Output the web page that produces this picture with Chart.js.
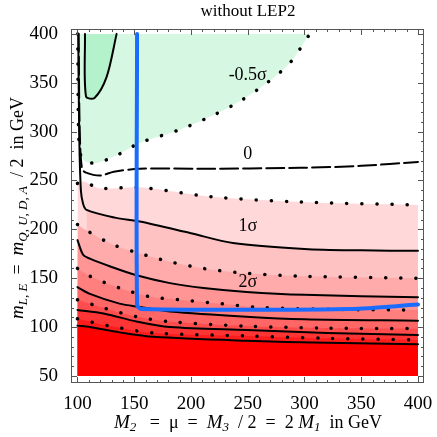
<!DOCTYPE html>
<html>
<head>
<meta charset="utf-8">
<script src="https://cdn.jsdelivr.net/npm/chart.js@4/dist/chart.umd.min.js"></script>
<style>
  html, body { margin: 0; padding: 0; background: #fff; }
  #wrap { width: 437px; height: 437px; }
</style>
</head>
<body>
<div id="wrap"><canvas id="c"></canvas></div>
<script>
// contour lines, as [M2, m] pairs
const greenDark = [[106.6,400],[107.5,336],[115,334.5],[125.7,356],[134.5,400]];
const minusHalf = [[100.2,400],[101,300],[103,275],[108,269],[117,268],[135,276],[155,288.5],[190,302],[220,317],[243,331],[267,350],[287,370],[303,397],[305,400]];
const zeroLine = [[101,400],[102,300],[104,262],[107.5,258],[120,255],[132,259],[155,262],[208,262],[296,263],[350,265],[400,269]];
const topDotted = [[100,247],[105,249],[120,242],[155,243],[217,233.5],[296,228],[400,225]];
const oneSigma = [[100.7,400],[101.5,300],[103,240],[105,226],[108,220],[133,212],[155,208],[200,196],[237,186],[300,180],[350,178.5],[400,178]];
const dot150 = [[100,205],[107,199.5],[130,185],[153,176],[181,167],[211,160],[249,155],[300,152],[400,150]];
const twoSigma = [[100,189],[105,174],[111,170],[129,162],[152,153],[181.5,145],[211,140],[249,136],[300,133],[400,130.5]];
const dot117 = [[100,160],[111,152],[137,140],[164,131],[190,128],[226,124],[262,120],[330,118],[400,117.5]];
const c3 = [[100,141],[111,134],[137,124],[155,120.6],[181.5,116],[249,110.6],[300,108],[400,106.6]];
const dot98 = [[100,128],[123,119.6],[152,110.7],[181,105.6],[249,101],[320,99],[400,98.4]];
const c2 = [[100,117.6],[123,114],[152,105.7],[181.5,100],[249,97],[320,94],[400,92]];
const dot87 = [[100,108.5],[129,101],[167,94],[249,91],[320,88.5],[400,86.8]];
const c1 = [[100,101.5],[111,100],[137,94.6],[167,90],[249,86],[320,84],[400,82.4]];
const blueLine = [[152.5,400],[152.5,123],[156,118.6],[340,118.6],[400,123]];

// band colours from top to bottom
const bandColors = ['#ffd9d9','#ffc2c2','#ffabab','#ff9595','#ff7f7f','#ff6666','#ff4d4d','#ff3535','#ff1c1c','#ff0000'];
const bandEdges = [topDotted, oneSigma.slice(4), dot150, twoSigma, dot117, c3, dot98, c2, dot87, c1];

const xTicks = [100,150,200,250,300,350,400];
const yTicks = [50,100,150,200,250,300,350,400];
const sigmaLabels = [['-0.5σ',250,358],['0',250,277],['1σ',250,203],['2σ',250,146]];

const pts = a => a.map(p => ({x: p[0], y: p[1]}));
const datasets = [];
function line(a, dash, color, width, order) {
  datasets.push({data: pts(a), borderColor: color || '#000', borderWidth: width || 2,
    borderDash: dash || [], borderCapStyle: 'round', pointRadius: 0, fill: false,
    tension: 0.3, order: order === undefined ? 0 : order});
}
[c1, c2, c3, twoSigma, oneSigma].forEach(a => line(a));
line(greenDark);
[dot87, dot98, dot117, dot150, topDotted, minusHalf].forEach(a => line(a, [0.1, 15], '#000', 3.5));
line(zeroLine, [18, 5]);
line(blueLine, [], '#1a6cff', 4, -1);

bandEdges.forEach((a, i) => {
  datasets.push({data: pts(a), borderWidth: 0, pointRadius: 0, tension: 0.3,
    backgroundColor: bandColors[i], fill: {value: 50}, order: 20 - i});
});
datasets.push({data: pts(minusHalf), borderWidth: 0, pointRadius: 0, tension: 0.3,
  backgroundColor: '#d6f8e2', fill: {value: 400}, order: 30});
datasets.push({data: pts(greenDark), borderWidth: 0, pointRadius: 0, tension: 0.3,
  backgroundColor: '#b4f2cc', fill: {value: 400}, order: 29});

const serif = '"Liberation Serif", "DejaVu Serif", serif';

function drawParts(ctx, parts, x, y) {
  let cx = x;
  parts.forEach(p => {
    ctx.font = (p.it ? 'italic ' : '') + (p.sz || 18) + 'px ' + serif;
    ctx.fillText(p.t, cx, y + (p.dy || 0));
    cx += ctx.measureText(p.t).width;
  });
  return cx - x;
}
function partsWidth(ctx, parts) {
  let w = 0;
  parts.forEach(p => {
    ctx.font = (p.it ? 'italic ' : '') + (p.sz || 18) + 'px ' + serif;
    w += ctx.measureText(p.t).width;
  });
  return w;
}

const decor = {
  id: 'decor',
  afterDraw(chart) {
    const ctx = chart.ctx, a = chart.chartArea;
    const xs = chart.scales.x, ys = chart.scales.y;
    ctx.save();
    ctx.strokeStyle = '#555';
    ctx.lineWidth = 1;
    ctx.strokeRect(a.left + 0.5, a.top + 0.5, a.right - a.left - 1, a.bottom - a.top - 1);
    for (let v = 100; v <= 400; v += 10) {
      const px = Math.round(xs.getPixelForValue(v)) + 0.5, len = v % 50 ? 3 : 6;
      ctx.beginPath();
      ctx.moveTo(px, a.bottom); ctx.lineTo(px, a.bottom - len);
      ctx.moveTo(px, a.top); ctx.lineTo(px, a.top + len);
      ctx.stroke();
    }
    for (let v = 50; v <= 400; v += 10) {
      const py = Math.round(ys.getPixelForValue(v)) + 0.5, len = v % 50 ? 3 : 6;
      ctx.beginPath();
      ctx.moveTo(a.left, py); ctx.lineTo(a.left + len, py);
      ctx.moveTo(a.right, py); ctx.lineTo(a.right - len, py);
      ctx.stroke();
    }
    ctx.fillStyle = '#000';
    ctx.textAlign = 'center';
    ctx.textBaseline = 'middle';
    ctx.font = '18px ' + serif;
    sigmaLabels.forEach(l => ctx.fillText(l[0], xs.getPixelForValue(l[1]), ys.getPixelForValue(l[2])));
    ctx.font = '17px ' + serif;
    ctx.fillText('without LEP2', 248, 12);

    ctx.textAlign = 'left';
    ctx.textBaseline = 'alphabetic';
    const xt = [{t:'M',it:1,sz:19},{t:'2',it:1,sz:13,dy:3},{t:'   =  μ  =  '},{t:'M',it:1,sz:19},{t:'3',it:1,sz:13,dy:3},
      {t:'  / 2  =  2 '},{t:'M',it:1,sz:19},{t:'1',it:1,sz:13,dy:3},{t:'  in GeV'}];
    drawParts(ctx, xt, 248 - partsWidth(ctx, xt) / 2, 428);

    const yt = [{t:'m',it:1,sz:19},{t:'L, E',it:1,sz:13,dy:4},{t:'  =  '},{t:'m',it:1,sz:19},{t:'Q, U, D, A',it:1,sz:13,dy:4},
      {t:'  / 2  in GeV'}];
    ctx.translate(18, 208);
    ctx.rotate(-Math.PI / 2);
    drawParts(ctx, yt, -partsWidth(ctx, yt) / 2, 5);
    ctx.restore();
  }
};

new Chart(document.getElementById('c'), {
  type: 'line',
  data: {datasets: datasets},
  plugins: [decor],
  options: {
    responsive: true,
    maintainAspectRatio: false,
    animation: false,
    layout: {padding: {top: 29, right: 13, left: 0, bottom: 0}},
    plugins: {legend: {display: false}, tooltip: {enabled: false}, filler: {propagate: false}},
    scales: {
      x: {
        type: 'linear', min: 94.3, max: 405.3,
        grid: {display: false}, border: {display: false},
        afterBuildTicks: s => { s.ticks = xTicks.map(v => ({value: v})); },
        afterFit: s => { s.height = 54; },
        ticks: {color: '#000', font: {family: serif, size: 19}, padding: 2, maxRotation: 0}
      },
      y: {
        type: 'linear', min: 42.8, max: 405,
        grid: {display: false}, border: {display: false},
        afterBuildTicks: s => { s.ticks = yTicks.map(v => ({value: v})); },
        afterFit: s => { s.width = 71; },
        ticks: {color: '#000', font: {family: serif, size: 19}, padding: 5}
      }
    }
  }
});
</script>
</body>
</html>
